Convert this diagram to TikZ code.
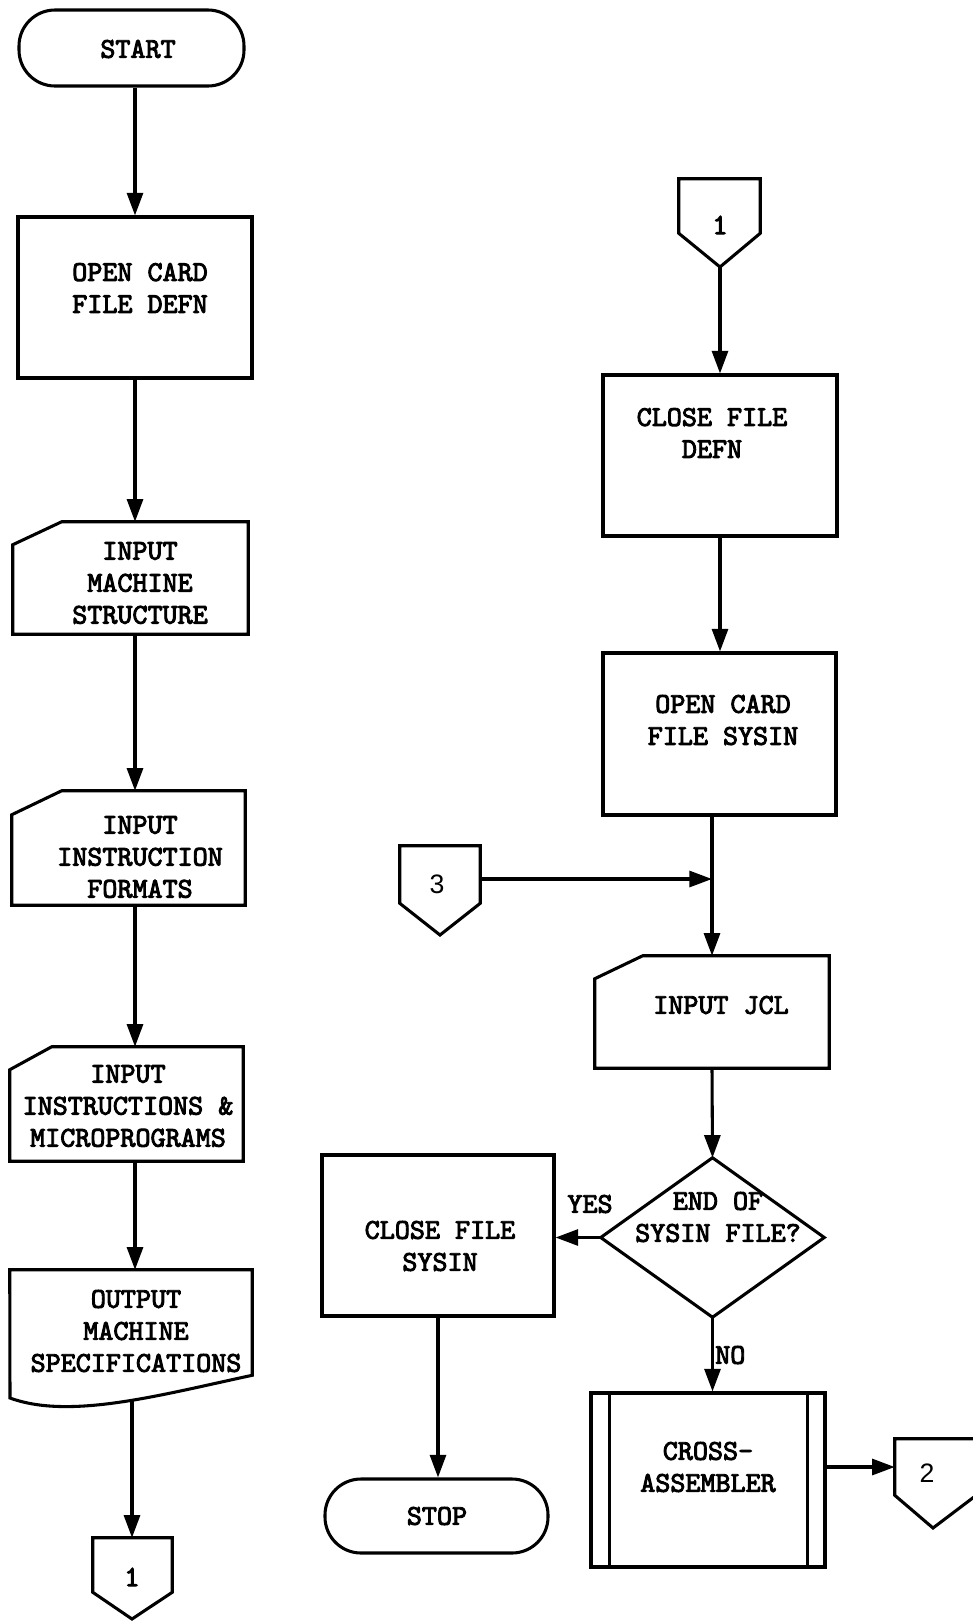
\documentclass[tikz,border=0pt]{standalone}
\usepackage{fontspec}
\newfontfamily\numsans{Liberation Sans}
\newfontfamily\tw{lmmono10-regular.otf}
\newcommand\heavyon{\special{pdf:literal direct 2 Tr 0.7 w}}
\newcommand\heavyoff{\special{pdf:literal direct 0 Tr}}
\usetikzlibrary{arrows.meta,calc,fit}
\begin{document}
\begin{tikzpicture}[x=0.75pt,y=-0.75pt,
  blk/.style={draw, line width=2.3pt, inner sep=0pt},
  ghost/.style={inner sep=0pt},
  ln/.style={line width=2.3pt, line join=miter},
  arr/.style={line width=2.3pt, -{Triangle[length=17pt,width=12pt]}},
  txt/.style={font=\fontsize{21.5}{24}\selectfont\tw, align=center, inner sep=0pt,
    execute at begin node=\heavyon, execute at end node=\heavyoff},
  num/.style={font=\fontsize{22}{24}\selectfont\tw, inner sep=0pt,
    execute at begin node=\heavyon, execute at end node=\heavyoff},
  numsf/.style={font=\fontsize{20}{24}\selectfont\numsans, inner sep=0pt}]
\fill[white] (0,0) rectangle (972,1621);
\useasboundingbox (0,0) rectangle (972,1621);

% column guides
\coordinate (colL) at (135,0);
\coordinate (colR) at (712,0);

% ---------------- left column ----------------
\node[blk, rounded corners=27pt, fit={(19,10) (244,86)}] (start) {};
\node[txt] (startt) at (138,49) {START};

\node[blk, fit={(18,217) (252,378)}] (b1) {};
\node[txt] (b1t) at (140,288) {OPEN CARD\\FILE DEFN};

\node[ghost, fit={(13,522) (248,634)}] (in1) {};
\draw[ln] (in1.south west) -- ($(in1.north west)+(0,23)$) -- ($(in1.north west)+(49,0)$) -- (in1.north east) -- (in1.south east) -- cycle;
\node[txt] (in1t) at (140,583) {INPUT\\MACHINE\\STRUCTURE};

\node[ghost, fit={(12,791) (245,905)}] (in2) {};
\draw[ln] (in2.south west) -- ($(in2.north west)+(0,24)$) -- ($(in2.north west)+(50,0)$) -- (in2.north east) -- (in2.south east) -- cycle;
\node[txt] (in2t) at (140,857) {INPUT\\INSTRUCTION\\FORMATS};

\node[ghost, fit={(10,1047) (243,1161)}] (in3) {};
\draw[ln] (in3.south west) -- ($(in3.north west)+(0,23)$) -- ($(in3.north west)+(42,0)$) -- (in3.north east) -- (in3.south east) -- cycle;
\node[txt] (in3t) at (128,1106) {INPUT\\INSTRUCTIONS \&\\MICROPROGRAMS};

\node[ghost, fit={(10,1270) (252,1375)}] (doc) {};
\draw[ln] (doc.north west) -- (doc.north east) -- (doc.south east)
  .. controls (160,1395) and (70,1420) .. (10,1398) -- cycle;
\coordinate (docb) at (132,1399);
\node[txt] (doct) at (136,1331) {OUTPUT\\MACHINE\\SPECIFICATIONS};

\node[ghost, fit={(93,1538) (172,1592)}] (c1L) {};
\coordinate (c1Ltip) at (132,1619);
\draw[ln] (c1L.north west) -- (c1L.north east) -- (c1L.south east) -- (c1Ltip) -- (c1L.south west) -- cycle;
\node[num] (c1Lt) at (132,1577) {1};

\draw[arr] (start.south -| colL) -- (b1.north -| colL);
\draw[arr] (b1.south -| colL) -- (in1.north -| colL);
\draw[arr] (in1.south -| colL) -- (in2.north -| colL);
\draw[arr] (in2.south -| colL) -- (in3.north -| colL);
\draw[arr] (in3.south -| colL) -- (doc.north -| colL);
\draw[arr] (docb) -- (docb |- c1L.north);

% ---------------- right column ----------------
\node[ghost, fit={(679,179) (760,233)}] (c1R) {};
\coordinate (c1Rtip) at (720,267);
\draw[ln] (c1R.north west) -- (c1R.north east) -- (c1R.south east) -- (c1Rtip) -- (c1R.south west) -- cycle;
\node[num] (c1Rt) at (720,225) {1};

\node[blk, fit={(603,375) (837,536)}] (cfd) {};
\node[txt] (cfdt) at (712,433) {CLOSE FILE\\DEFN};

\node[blk, fit={(603,653) (836,815)}] (osys) {};
\node[txt] (osyst) at (723,720) {OPEN CARD\\FILE SYSIN};

\coordinate (junc) at (712,879);

\node[ghost, fit={(400,846) (480,903)}] (c3) {};
\coordinate (c3tip) at (440,935);
\draw[ln] (c3.north west) -- (c3.north east) -- (c3.south east) -- (c3tip) -- (c3.south west) -- cycle;
\node[numsf] (c3t) at (437,884) {3};

\node[ghost, fit={(595,956) (829,1068)}] (jcl) {};
\draw[ln] (jcl.south west) -- ($(jcl.north west)+(0,23)$) -- ($(jcl.north west)+(48,0)$) -- (jcl.north east) -- (jcl.south east) -- cycle;
\node[txt] (jclt) at (721,1005) {INPUT JCL};

\node[ghost, fit={(601,1158) (824,1317)}] (dia) {};
\draw[ln] (dia.north) -- (dia.east) -- (dia.south) -- (dia.west) -- cycle;
\node[txt] (diat) at (718,1217) {END OF\\SYSIN FILE?};

\node[blk, fit={(322,1155) (554,1316)}] (csys) {};
\node[txt] (csyst) at (440,1246) {CLOSE FILE\\SYSIN};

\node[blk, rounded corners=27pt, fit={(325,1479) (548,1553)}] (stop) {};
\node[txt] (stopt) at (437,1516) {STOP};

\node[blk, fit={(591,1393) (825,1567)}] (cross) {};
\draw[ln] ($(cross.north west)+(20,0)$) -- ($(cross.south west)+(20,0)$);
\draw[ln] ($(cross.north east)+(-19,0)$) -- ($(cross.south east)+(-19,0)$);
\node[txt] (crosst) at (708,1467) {CROSS-\\ASSEMBLER};

\node[ghost, fit={(895,1439) (976,1495)}] (c2) {};
\coordinate (c2tip) at (933,1528);
\draw[ln] (c2.north west) -- (c2.north east) -- (c2.south east) -- (c2tip) -- (c2.south west) -- cycle;
\node[numsf] (c2t) at (927,1473) {2};

\draw[arr] (c1Rtip) -- (c1Rtip |- cfd.north);
\draw[arr] (cfd.south) -- (cfd.south |- osys.north);
\draw[ln] (osys.south -| colR) -- (junc);
\draw[arr] (junc) -- (jcl.north -| colR);
\draw[arr] (c3.east |- junc) -- (junc);
\draw[arr] (jcl.south -| colR) -- (dia.north);
\draw[arr] (dia.west) -- (csys.east |- dia.west);
\node[txt] (yes) at (590,1204) {YES};
\draw[arr] (dia.south) -- (dia.south |- cross.north);
\node[txt, anchor=west] (no) at (715,1355) {NO};
\draw[arr] (csys.south) -- (csys.south |- stop.north);
\draw[arr] (c2.west -| cross.east) -- (c2.west);
\end{tikzpicture}
\end{document}
